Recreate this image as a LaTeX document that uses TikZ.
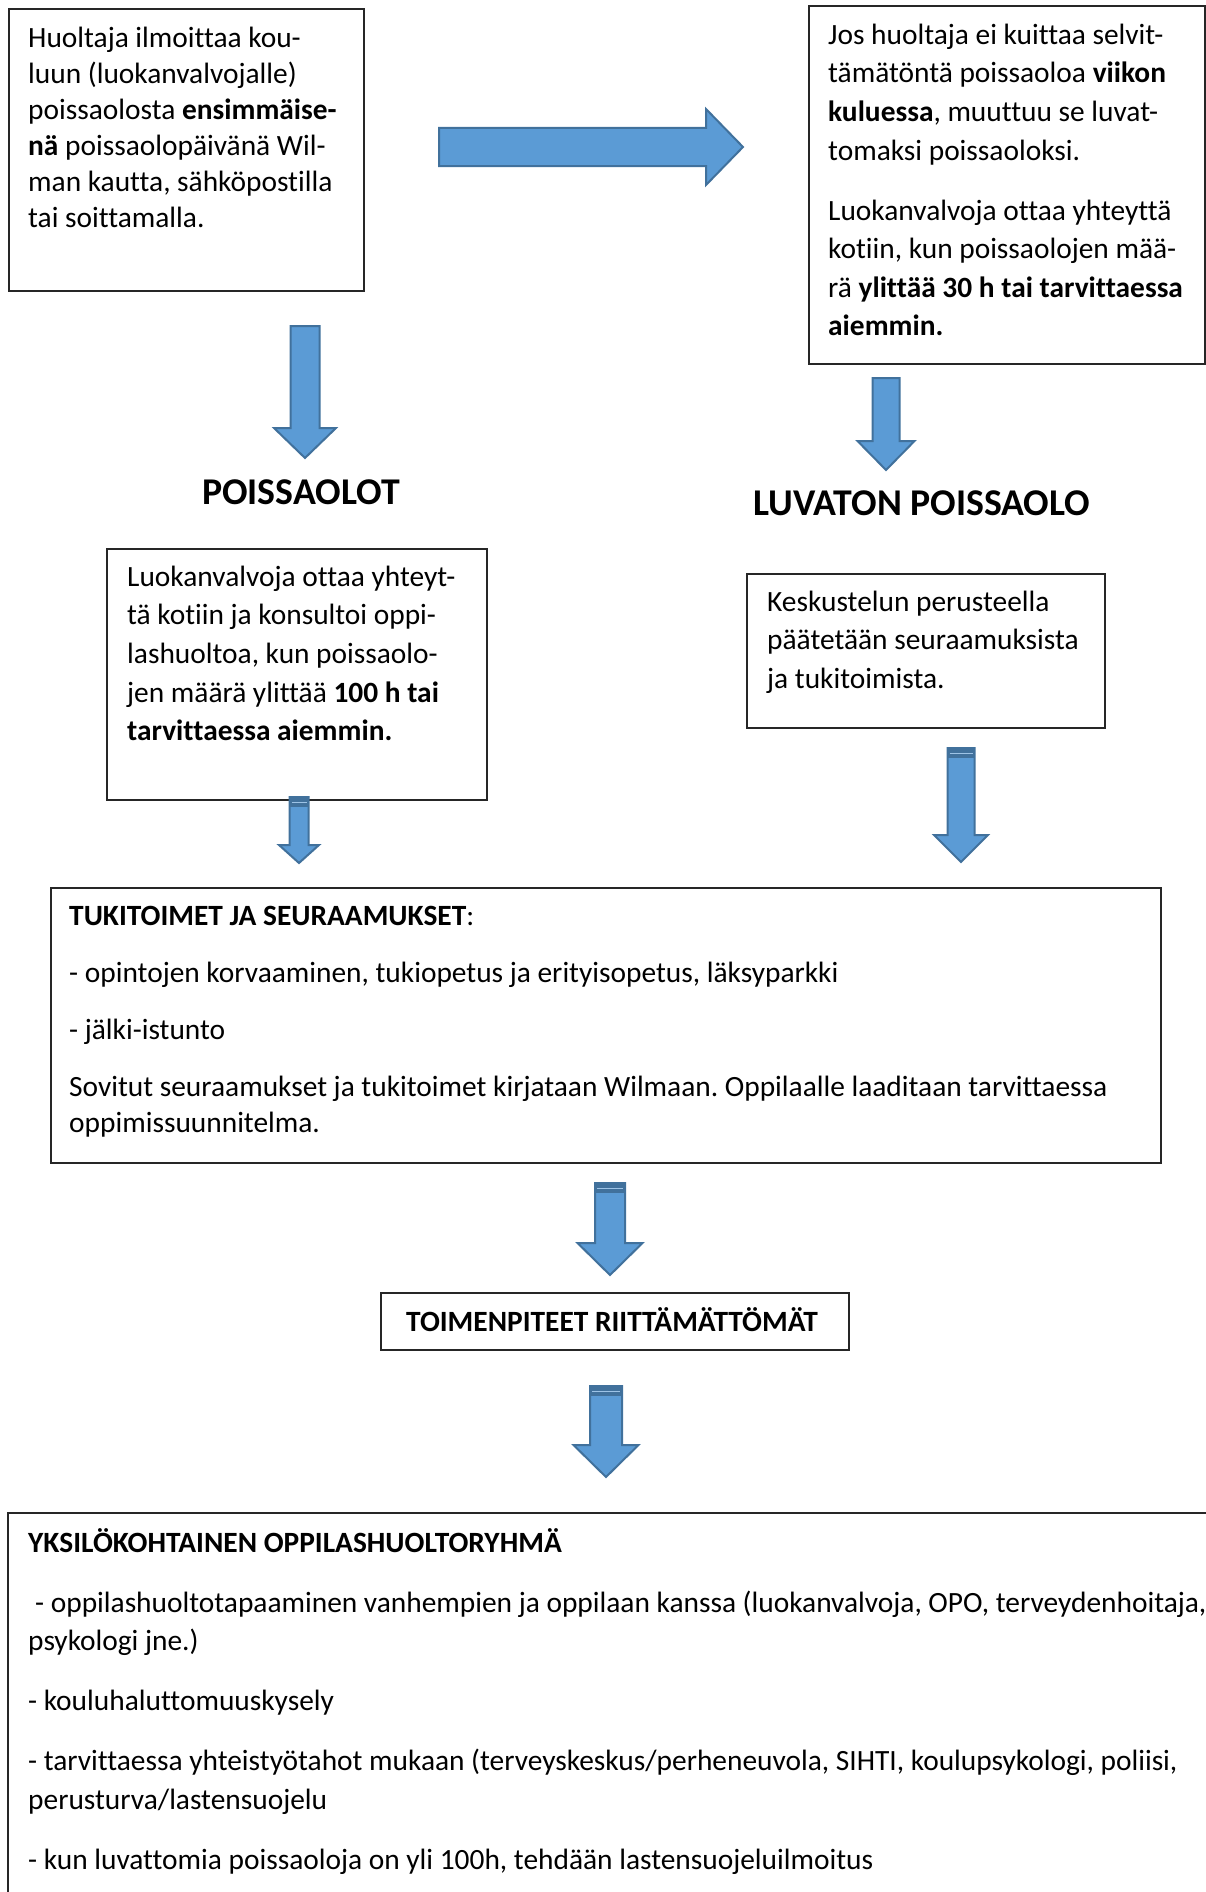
\documentclass[tikz,border=0pt]{standalone}
\usepackage{fontspec}
\setmainfont{Carlito}[Ligatures=NoCommon]
\frenchspacing
\definecolor{arrowfill}{HTML}{5B9BD5}
\definecolor{arrowline}{HTML}{41719C}
\newcommand{\blockdown}[6]{%
  \draw[blockarrow] (#1-#5,#2) -- (#1+#5,#2) -- (#1+#5,#3) -- (#1+#6,#3) -- (#1,#4) -- (#1-#6,#3) -- (#1-#5,#3) -- cycle;}
\newcommand{\blockband}[3]{%
  \fill[arrowline] (#1-#3,#2) rectangle (#1+#3,#2+10);
  \draw[arrowfill!60!white, line width=1pt] (#1-#3+2,#2+5) -- (#1+#3-2,#2+5);}

\begin{document}
\begin{tikzpicture}[x=1pt, y=-1pt,
    box/.style={draw=black!85, line width=1.8pt, anchor=north west, inner sep=0pt},
    boxline/.style={draw=black!85, line width=1.8pt},
    txt/.style={anchor=north west, inner sep=0pt, align=left, font=\fontsize{29.4}{38.6}\selectfont},
    tighttxt/.style={txt, font=\fontsize{29.4}{36}\selectfont},
    head/.style={anchor=base, inner sep=0pt, font=\fontsize{37.8}{44}\selectfont\bfseries},
    blockarrow/.style={fill=arrowfill, draw=arrowline, line width=2pt, line join=miter}]
    \useasboundingbox (0,0) rectangle (1206,1892);

    \node[box, minimum width=355pt, minimum height=282pt] (b1) at (8,8) {};
    \node[box, minimum width=396pt, minimum height=358pt] (b2) at (808,5) {};
    \node[box, minimum width=380pt, minimum height=251pt] (b3) at (106,548) {};
    \node[box, minimum width=358pt, minimum height=154pt] (b4) at (746,573) {};
    \node[box, minimum width=1110pt, minimum height=275pt] (b5) at (50,887) {};
    \node[box, minimum width=468pt, minimum height=57pt] (b6) at (380,1292) {};
    \draw[boxline] (1206,1513) -| (8,1892);

    \node[tighttxt] (t1) at (28,21.8) {\strut Huoltaja ilmoittaa kou-\\luun (luokanvalvojalle)\\poissaolosta \textbf{ensimmäise-}\\\textbf{nä} poissaolopäivänä Wil-\\man kautta, sähköpostilla\\tai soittamalla.};
    \node[txt] (t2) at (828,17) {\strut Jos huoltaja ei kuittaa selvit-\\tämätöntä poissaoloa \textbf{viikon}\\\textbf{kuluessa}, muuttuu se luvat-\\tomaksi poissaoloksi.\\[21.4pt]Luokanvalvoja ottaa yhteyttä\\kotiin, kun poissaolojen mää-\\rä \textbf{ylittää 30 h tai tarvittaessa}\\\textbf{aiemmin.}};
    \node[head] (h1) at (301,504) {POISSAOLOT};
    \node[head] (h2) at (922,515) {LUVATON POISSAOLO};
    \node[txt] (t3) at (127,559) {\strut Luokanvalvoja ottaa yhteyt-\\tä kotiin ja konsultoi oppi-\\lashuoltoa, kun poissaolo-\\jen määrä ylittää \textbf{100 h tai}\\\textbf{tarvittaessa aiemmin.}};
    \node[txt] (t4) at (767,584) {\strut Keskustelun perusteella\\päätetään seuraamuksista\\ja tukitoimista.};
    \node[tighttxt] (t5) at (69,899.8) {\strut\textbf{TUKITOIMET JA SEURAAMUKSET}:\\[21pt]- opintojen korvaaminen, tukiopetus ja erityisopetus, läksyparkki\\[21pt]- jälki-istunto\\[21pt]Sovitut seuraamukset ja tukitoimet kirjataan Wilmaan. Oppilaalle laaditaan tarvittaessa\\oppimissuunnitelma.};
    \node[txt, anchor=base, font=\fontsize{29.4}{38}\selectfont\bfseries] (t6) at (612,1331) {TOIMENPITEET RIITTÄMÄTTÖMÄT};
    \node[txt] (t7) at (28,1525) {\strut\textbf{YKSILÖKOHTAINEN OPPILASHUOLTORYHMÄ}\\[21.4pt]\hspace{7pt}- oppilashuoltotapaaminen vanhempien ja oppilaan kanssa (luokanvalvoja, OPO, terveydenhoitaja,\\psykologi jne.)\\[21.4pt]- kouluhaluttomuuskysely\\[21.4pt]- tarvittaessa yhteistyötahot mukaan (terveyskeskus/perheneuvola, SIHTI, koulupsykologi, poliisi,\\perusturva/lastensuojelu\\[21.4pt]- kun luvattomia poissaoloja on yli 100h, tehdään lastensuojeluilmoitus};

    \draw[blockarrow] (439,128) -- (706,128) -- (706,109) -- (743,147) -- (706,185) -- (706,166) -- (439,166) -- cycle;
    \blockdown{305}{326}{428}{458}{14.5}{31}
    \blockdown{886}{378}{441}{470}{13.5}{28.5}
    \blockdown{299}{797}{845}{863}{9.5}{20}
    \blockband{299}{797}{9.5}
    \blockdown{961}{748}{835}{862}{13.5}{27}
    \blockband{961}{748}{13.5}
    \blockdown{610}{1183}{1243}{1275}{15}{32.5}
    \blockband{610}{1183}{15}
    \blockdown{606}{1386}{1445}{1477}{16}{32.5}
    \blockband{606}{1386}{16}
\end{tikzpicture}
\end{document}
